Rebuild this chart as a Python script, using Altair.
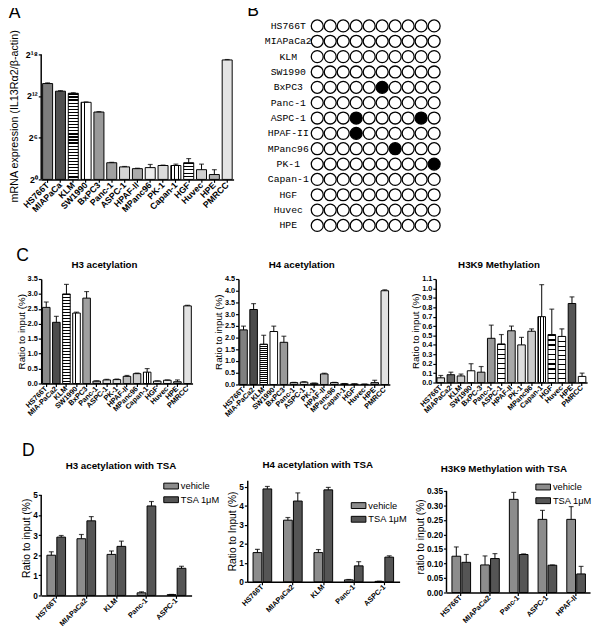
import altair as alt
import pandas as pd

FONT = "Liberation Sans"

# ---------------- Panel A : mRNA expression (log2 units) ----------------
a_cells = ["HS766T", "MIAPaCa", "KLM", "SW1990", "BxPC3", "Panc-1", "ASPC-1", "HPAF-II",
           "MPanc96", "PK-1", "Capan-1", "HGF", "Huvec", "HPE", "PMRCC"]
a_log2 = [13.8, 12.7, 12.4, 11.1, 9.7, 2.4, 1.8, 1.55, 1.7, 2.0, 2.0, 2.4, 1.4, 0.7, 17.2]
a_err = [0.1, 0.08, 0.08, 0.06, 0.06, 0.06, 0.06, 0.06, 0.45, 0.06, 0.2, 0.6, 0.8, 0.7, 0.06]
a_ticks = [0, 6, 12, 18]

# ---------------- Panel B : methylation sites ----------------
b_cells = ["HS766T", "MIAPaCa2", "KLM", "SW1990", "BxPC3", "Panc-1", "ASPC-1", "HPAF-II",
           "MPanc96", "PK-1", "Capan-1", "HGF", "Huvec", "HPE"]
b_sites = list(range(1, 11))
b_meth_cells = ["BxPC3", "ASPC-1", "ASPC-1", "HPAF-II", "MPanc96", "PK-1"]
b_meth_sites = [6, 4, 9, 4, 7, 10]

# ---------------- Panel C ----------------
c1_cells = ["HS766T", "MIA-PaCa2", "KLM", "SW1990", "BxPC3", "Panc-1", "ASPC-1", "PK-1",
            "HPAF-II", "MPanc96", "Capan-1", "HGF", "Huvec", "HPE", "PMRCC"]
c1_vals = [2.55, 2.05, 3.0, 2.36, 2.86, 0.08, 0.12, 0.13, 0.24, 0.33, 0.38, 0.08, 0.11, 0.06, 2.6]
c1_err = [0.18, 0.2, 0.32, 0.03, 0.22, 0.01, 0.02, 0.02, 0.03, 0.02, 0.12, 0.01, 0.01, 0.06, 0.02]
c1_ticks = [0, 0.5, 1, 1.5, 2, 2.5, 3, 3.5]

c2_cells = c1_cells
c2_vals = [2.33, 3.2, 1.72, 2.26, 1.8, 0.08, 0.1, 0.05, 0.45, 0.08, 0.03, 0.02, 0.01, 0.08, 4.0]
c2_err = [0.16, 0.25, 0.38, 0.23, 0.26, 0.01, 0.02, 0.01, 0.03, 0.01, 0.01, 0.01, 0.01, 0.1, 0.04]
c2_ticks = [0, 0.5, 1, 1.5, 2, 2.5, 3, 3.5, 4, 4.5]

c3_cells = ["HS766T", "MIAPaCa2", "KLM", "SW1990", "BxPC-3", "Panc-1", "ASPC-1", "HPAF-II",
            "PK-1", "MPanc96", "Capan-1", "HGF", "Huvec", "HPE", "PMRCC"]
c3_vals = [0.05, 0.083, 0.07, 0.125, 0.11, 0.47, 0.41, 0.55, 0.40, 0.545, 0.70, 0.51, 0.49, 0.84, 0.065]
c3_err = [0.025, 0.027, 0.02, 0.075, 0.06, 0.14, 0.1, 0.05, 0.08, 0.025, 0.34, 0.27, 0.08, 0.07, 0.035]
c3_ticks = [0, 0.1, 0.2, 0.3, 0.4, 0.5, 0.6, 0.7, 0.8, 0.9, 1.0, 1.1]

# ---------------- Panel D ----------------
treatments = ["vehicle", "TSA 1μM"]
d1_cells = ["HS766T", "MIAPaCa2", "KLM", "Panc-1", "ASPC-1"]
d1_veh = [2.0, 2.82, 2.04, 0.13, 0.04]
d1_veh_err = [0.17, 0.21, 0.17, 0.05, 0.01]
d1_tsa = [2.9, 3.71, 2.44, 4.45, 1.35]
d1_tsa_err = [0.08, 0.21, 0.26, 0.22, 0.1]
d1_ticks = [0, 1, 2, 3, 4, 5]

d2_cells = ["HS766T", "MIAPaCa2", "KLM", "Panc-1", "ASPC-1"]
d2_veh = [1.54, 3.25, 1.54, 0.1, 0.02]
d2_veh_err = [0.17, 0.14, 0.16, 0.02, 0.01]
d2_tsa = [4.9, 4.26, 4.85, 0.84, 1.3]
d2_tsa_err = [0.13, 0.43, 0.13, 0.22, 0.07]
d2_ticks = [0, 1, 2, 3, 4, 5]

d3_cells = ["HS766T", "MIAPaCa2", "Panc-1", "ASPC-1", "HPAF-II"]
d3_veh = [0.125, 0.095, 0.321, 0.252, 0.252]
d3_veh_err = [0.032, 0.031, 0.024, 0.031, 0.044]
d3_tsa = [0.104, 0.117, 0.131, 0.094, 0.064]
d3_tsa_err = [0.027, 0.017, 0.002, 0.001, 0.026]
d3_ticks = [0, 0.05, 0.1, 0.15, 0.2, 0.25, 0.3, 0.35]


# ---------------- styles ----------------
def stripes(n, horizontal=True, duty=0.4, ink="black", paper="white"):
    stops = []
    for i in range(n):
        a, b, c = i / n, (i + duty) / n, (i + 1) / n
        stops += [{"offset": round(a, 4), "color": ink}, {"offset": round(b, 4), "color": ink},
                  {"offset": round(b, 4), "color": paper}, {"offset": round(c, 4), "color": paper}]
    return {"gradient": "linear", "x1": 0, "y1": 0,
            "x2": 0 if horizontal else 1, "y2": 1 if horizontal else 0, "stops": stops}


def fill_by(styles, default="white"):
    conds = [{"test": f"datum.cell === '{k}'", "value": v} for k, v in styles.items()]
    return alt.value(default, condition=conds)


a_styles = {"HS766T": "#7d7d7d", "MIAPaCa": "#505050", "KLM": stripes(28, True, 0.4),
            "SW1990": stripes(3, False, 0.2), "BxPC3": "#9a9a9a", "Panc-1": "#a0a0a0",
            "ASPC-1": "#d6d6d6", "HPAF-II": "#ababab", "MPanc96": "#ececec", "PK-1": "#dcdcdc",
            "Capan-1": stripes(3, False, 0.35), "HGF": stripes(5, True, 0.3), "Huvec": "#d0d0d0",
            "HPE": "#b0b0b0", "PMRCC": "#e4e4e4"}
c1_styles = {"HS766T": "#8a8a8a", "MIA-PaCa2": "#4d4d4d", "KLM": stripes(30, True, 0.35),
             "SW1990": stripes(3, False, 0.2), "BxPC3": "#a0a0a0", "Panc-1": "#aaaaaa",
             "ASPC-1": "#dddddd", "PK-1": "#dddddd", "HPAF-II": "#bbbbbb", "MPanc96": "#cccccc",
             "Capan-1": stripes(3, False, 0.35), "HGF": "#dddddd", "Huvec": "#eeeeee",
             "HPE": "#999999", "PMRCC": "#e2e2e2"}
c2_styles = {"HS766T": "#808080", "MIA-PaCa2": "#4a4a4a", "KLM": stripes(20, True, 0.35),
             "SW1990": stripes(2, False, 0.1), "BxPC3": "#999999", "Panc-1": "#bbbbbb",
             "ASPC-1": "#dddddd", "PK-1": "#dddddd", "HPAF-II": "#b0b0b0", "MPanc96": "#cccccc",
             "Capan-1": "#cccccc", "HGF": "#dddddd", "Huvec": "#eeeeee", "HPE": "#999999",
             "PMRCC": "#e2e2e2"}
c3_styles = {"HS766T": "#dddddd", "MIAPaCa2": "#666666", "KLM": "#cccccc", "SW1990": "white",
             "BxPC-3": "#aaaaaa", "Panc-1": "#999999", "ASPC-1": stripes(8, True, 0.2),
             "HPAF-II": "#a8a8a8", "PK-1": "#dddddd", "MPanc96": "#cccccc",
             "Capan-1": stripes(3, False, 0.35), "HGF": stripes(10, True, 0.3),
             "Huvec": stripes(10, True, 0.2), "HPE": "#555555", "PMRCC": "white"}
treat_colors = ["#8c8c8c", "#555555"]


def x_axis(size):
    return alt.Axis(title=None, labelAngle=-45, labelAlign="right", labelBaseline="middle",
                    labelFontWeight="bold", labelFontSize=size, labelPadding=1, tickSize=3,
                    labelColor="black")


def y_axis(ticks, title, fmt, lab, tsize, show_domain, labelexpr=None, title_y=None,
           title_pad=1):
    kw = dict(values=ticks, tickCount=len(ticks), title=title, labelFontWeight="bold",
              labelFontSize=lab, tickSize=3, labelPadding=1, titlePadding=title_pad,
              titleFontSize=tsize, titleFontWeight="normal", labelOverlap=False,
              domain=show_domain)
    if labelexpr:
        kw["labelExpr"] = labelexpr
    else:
        kw["format"] = fmt
    if title_y is not None:
        kw["titleY"] = title_y
    return alt.Axis(**kw)


def axis_rule(ticks):
    # y-axis line from the first to the last tick when the plot area extends above it
    df = pd.DataFrame({"value": [ticks[0]], "top": [ticks[-1]]})
    return alt.Chart(df).mark_rule(color="black", strokeWidth=1.5).encode(
        x=alt.value(0), y="value:Q", y2="top:Q")


def bar_panel(cells, vals, errs, styles, title, ytitle, domain, ticks, fmt, width, height,
              xlab=7.5, ylab=7.5, pad=0.25, labelexpr=None, ytitle_size=10, title_offset=5,
              title_y=None, title_pad=1):
    df = pd.DataFrame({"cell": cells, "value": vals,
                       "top": [v + e for v, e in zip(vals, errs)]})
    clipped = domain[1] > ticks[-1] + 1e-9
    x = alt.X("cell:N", sort=cells, axis=x_axis(xlab),
              scale=alt.Scale(paddingInner=pad, paddingOuter=pad / 2))
    y = alt.Y("value:Q", scale=alt.Scale(domain=domain, nice=False, zero=True),
              axis=y_axis(ticks, ytitle, fmt, ylab, ytitle_size, not clipped, labelexpr,
                          title_y, title_pad))
    base = alt.Chart(df)
    bars = base.mark_bar(stroke="black", strokeWidth=1).encode(x=x, y=y, fill=fill_by(styles))
    rule = base.mark_rule(color="black", strokeWidth=1).encode(x=x, y="value:Q", y2="top:Q")
    cap = base.mark_tick(color="black", thickness=1.2, size=5).encode(x=x, y="top:Q")
    layers = [bars, rule, cap] + ([axis_rule(ticks)] if clipped else [])
    return alt.layer(*layers).properties(
        width=width, height=height,
        title=alt.TitleParams(title, fontSize=10, fontWeight="bold", anchor="middle",
                              frame="bounds", offset=title_offset))


def tsa_panel(cells, veh, veh_err, tsa, tsa_err, title, ytitle, domain, ticks, fmt,
              legend_xy, width, height, title_offset, show_domain=False):
    vals = veh + tsa
    errs = veh_err + tsa_err
    df = pd.DataFrame({"cell": cells * 2,
                       "treatment": [treatments[0]] * len(cells) + [treatments[1]] * len(cells),
                       "value": vals, "top": [v + e for v, e in zip(vals, errs)]})
    x = alt.X("cell:N", sort=cells, axis=x_axis(7.5),
              scale=alt.Scale(paddingInner=0.38, paddingOuter=0.19))
    xo = alt.XOffset("treatment:N", sort=treatments, scale=alt.Scale(paddingInner=0.12))
    y = alt.Y("value:Q", scale=alt.Scale(domain=domain, nice=False),
              axis=y_axis(ticks, ytitle, fmt, 8.5, 10.5, show_domain))
    base = alt.Chart(df)
    bars = base.mark_bar(stroke="black", strokeWidth=1).encode(
        x=x, xOffset=xo, y=y,
        fill=alt.Fill("treatment:N", sort=treatments,
                      scale=alt.Scale(domain=treatments, range=treat_colors),
                      legend=alt.Legend(title=None, orient="none", legendX=legend_xy[0],
                                        legendY=legend_xy[1], symbolType="M-1,-0.4H1V0.4H-1Z",
                                        symbolSize=225, symbolStrokeColor="black",
                                        symbolStrokeWidth=1, labelFontSize=9.5, labelFont=FONT,
                                        rowPadding=1, labelOffset=2, labelColor="black")))
    rule = base.mark_rule(color="black", strokeWidth=1).encode(x=x, xOffset=xo, y="value:Q", y2="top:Q")
    cap = base.mark_tick(color="black", thickness=1.2, size=5).encode(x=x, xOffset=xo, y="top:Q")
    layers = [bars, rule, cap] + ([] if show_domain else [axis_rule(ticks)])
    return alt.layer(*layers).properties(
        width=width, height=height,
        title=alt.TitleParams(title, fontSize=10, fontWeight="bold", anchor="middle",
                              frame="bounds", offset=title_offset))


# ---------------- build panels ----------------
sup = ("datum.value == 0 ? '2⁰' : datum.value == 6 ? '2⁶' : "
       "datum.value == 12 ? '2¹²' : '2¹⁸'")
chartA = bar_panel(a_cells, a_log2, a_err, a_styles, "", "mRNA expression (IL13Rα2/β-actin)",
                   [0, 23.2], a_ticks, "d", 197, 165, xlab=9, ylab=9, pad=0.22, labelexpr=sup,
                   ytitle_size=11, title_y=100, title_pad=6).properties(
    title=alt.TitleParams("A", fontSize=18, fontWeight="normal", anchor="start",
                          frame="bounds", offset=-4))

grid = pd.DataFrame([{"cell": c, "site": s,
                      "meth": any(c == mc and s == ms for mc, ms in zip(b_meth_cells, b_meth_sites))}
                     for c in b_cells for s in b_sites])
b_y = alt.Y("cell:N", sort=b_cells, axis=None)
b_circles = alt.Chart(grid).mark_point(shape="circle", filled=True, size=150, stroke="black",
                                       strokeWidth=1.3, opacity=1).encode(
    x=alt.X("site:O", axis=None), y=b_y,
    fill=alt.when(alt.datum.meth).then(alt.value("black")).otherwise(alt.value("white")))
b_labels = alt.Chart(pd.DataFrame({"cell": b_cells})).mark_text(
    font="Liberation Mono", fontSize=10, align="center", baseline="middle", color="black").encode(
    x=alt.value(-23), y=b_y, text="cell:N")
chartB = alt.layer(b_circles, b_labels).properties(
    width=133, height=220,
    title=alt.TitleParams("B", fontSize=18, fontWeight="normal", anchor="start",
                          frame="bounds", dx=-18, offset=-3))

C1 = bar_panel(c1_cells, c1_vals, c1_err, c1_styles, "H3 acetylation", "Ratio to input (%)",
               [0, 3.5], c1_ticks, ".1f", 155, 107)
C2 = bar_panel(c2_cells, c2_vals, c2_err, c2_styles, "H4 acetylation", "Ratio to input (%)",
               [0, 4.5], c2_ticks, ".1f", 155, 108)
C3 = bar_panel(c3_cells, c3_vals, c3_err, c3_styles, "H3K9 Methylation", "Ratio to input (%)",
               [0, 1.1], c3_ticks, ".1f", 155, 106)

D1 = tsa_panel(d1_cells, d1_veh, d1_veh_err, d1_tsa, d1_tsa_err, "H3 acetylation with TSA",
               "Ratio to input (%)", [0, 5.73], d1_ticks, "d", (125, -2), 154, 118, 7)
D2 = tsa_panel(d2_cells, d2_veh, d2_veh_err, d2_tsa, d2_tsa_err, "H4 acetylation with TSA",
               "Ratio to Input (%)", [0, 5.36], d2_ticks, "d", (106, 18), 156, 104, 10,
               show_domain=True)
D3 = tsa_panel(d3_cells, d3_veh, d3_veh_err, d3_tsa, d3_tsa_err, "H3K9 Methylation with TSA",
               "ratio to input (%)", [0, 0.387], d3_ticks, ".2f", (91, -1), 147, 115, 5)

row1 = alt.hconcat(chartA, chartB, spacing=13)
row2 = alt.hconcat(C1, C2, C3, spacing=21).properties(
    title=alt.TitleParams("C", fontSize=18, fontWeight="normal", anchor="start", offset=-5))
row3 = alt.hconcat(D1, D2, D3, spacing=8).resolve_scale(fill="independent").resolve_legend(
    fill="independent").properties(
    title=alt.TitleParams("D", fontSize=18, fontWeight="normal", anchor="start", offset=1))

lower = alt.vconcat(row2, row3, spacing=24).resolve_scale(fill="independent").resolve_legend(
    fill="independent")
chart = alt.vconcat(row1, lower, spacing=14).resolve_scale(fill="independent").resolve_legend(
    fill="independent").properties(
    padding={"top": -13, "left": 0, "right": 0, "bottom": 0}).configure_view(
    stroke=None).configure_axis(
    domainColor="black", domainWidth=1.5, tickColor="black", tickWidth=1.2, labelColor="black",
    titleColor="black", grid=False, labelFont=FONT, titleFont=FONT).configure_title(
    font=FONT, color="black")

chart.save("out.html", embed_options={"renderer": "svg", "actions": False})
